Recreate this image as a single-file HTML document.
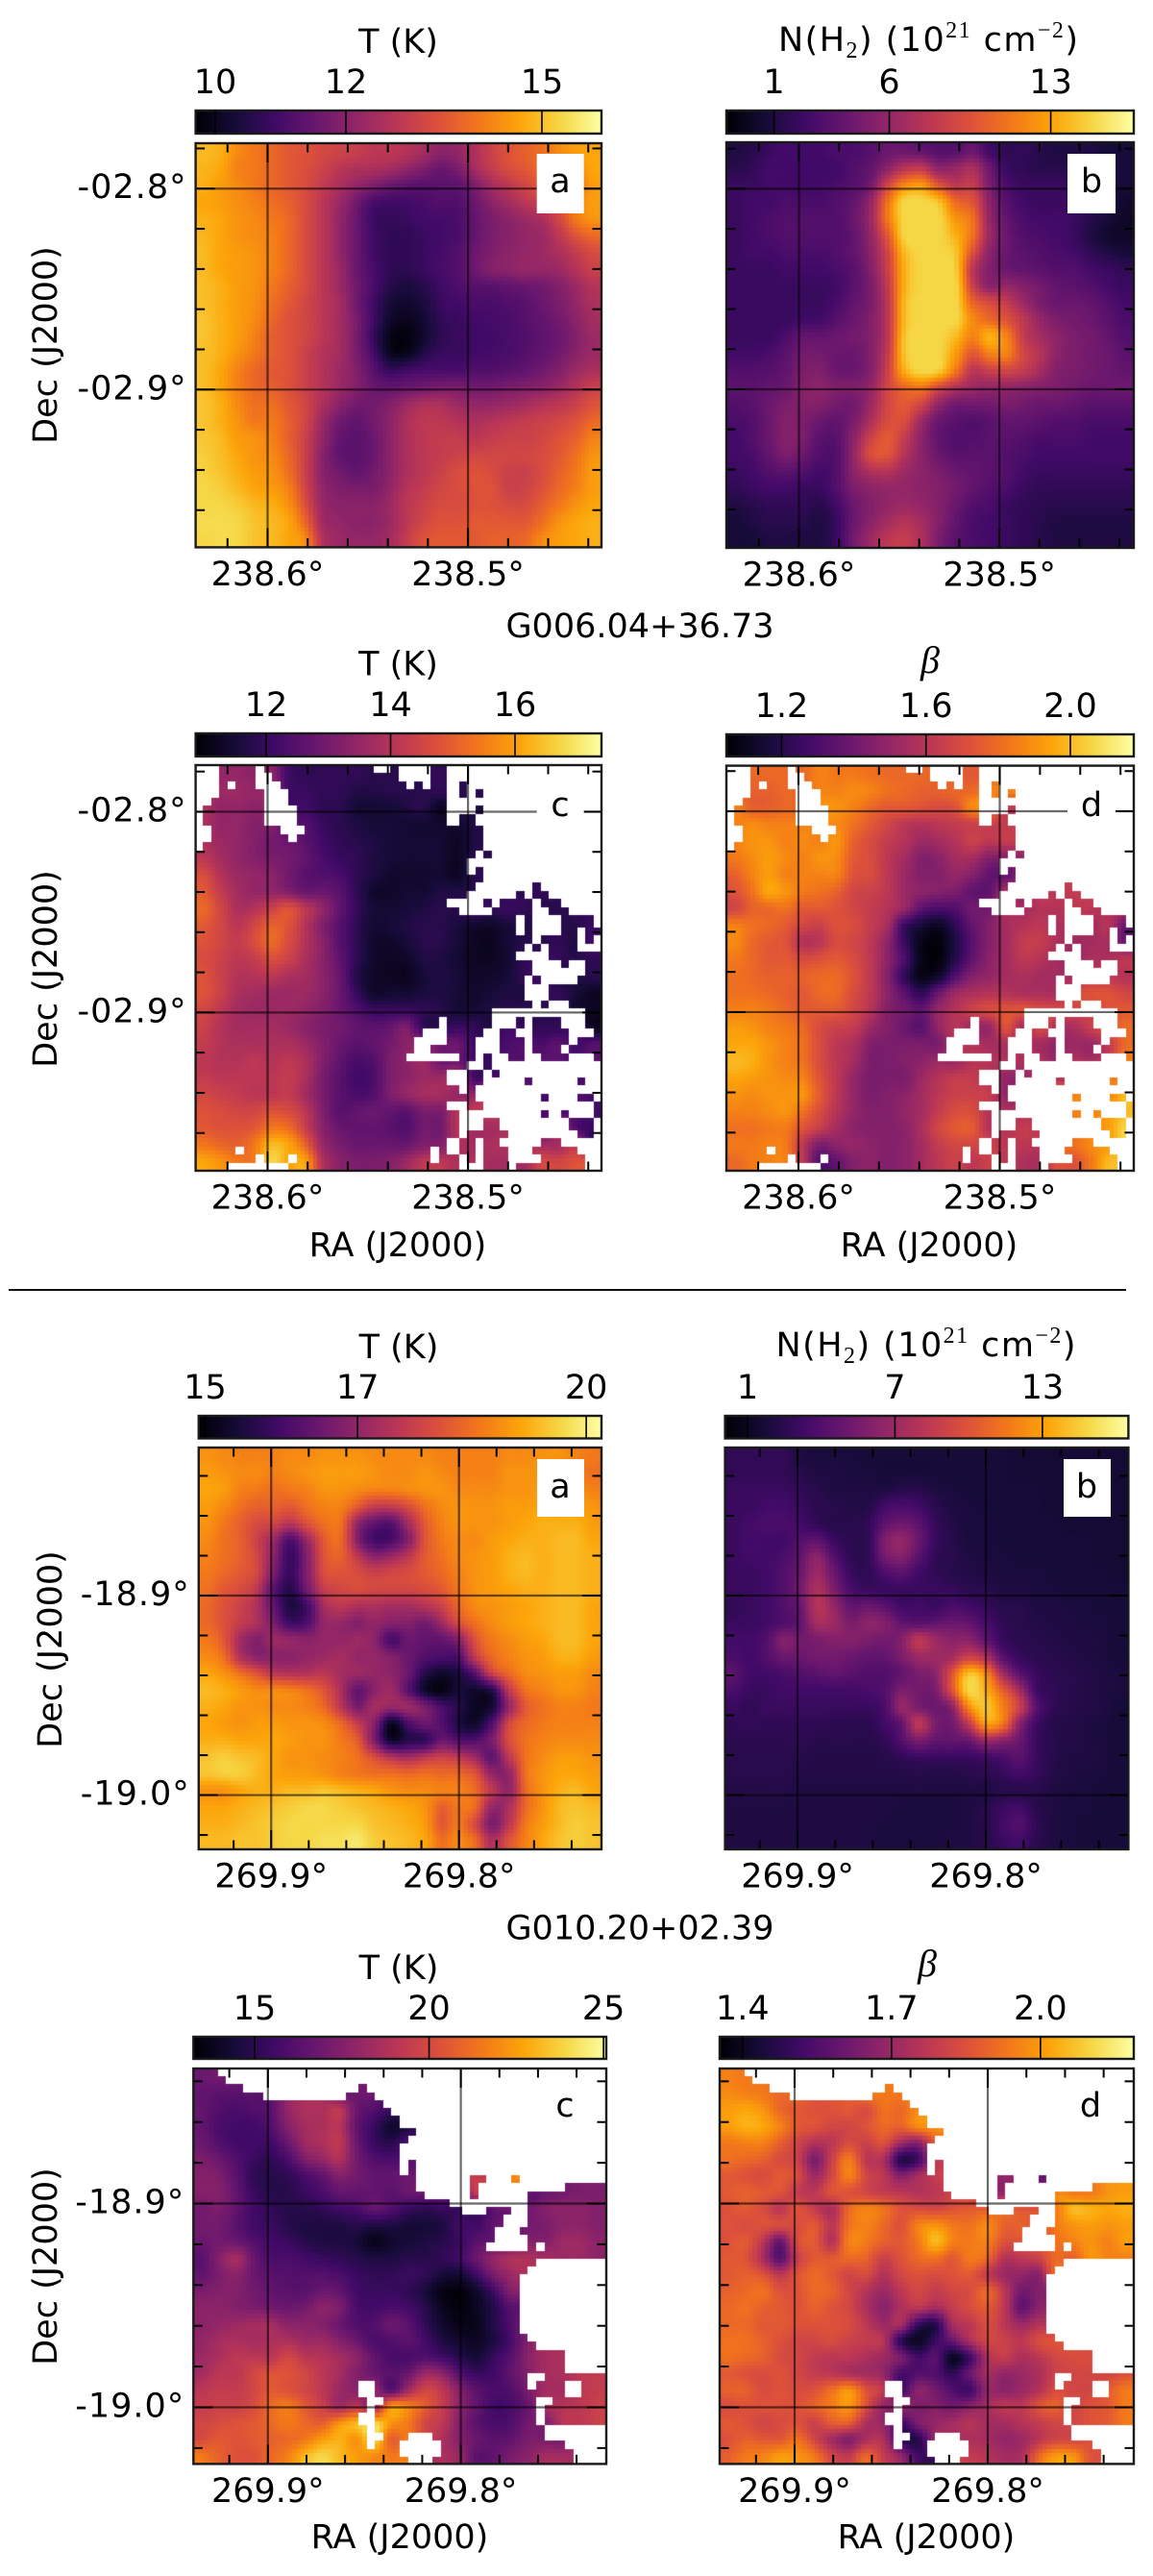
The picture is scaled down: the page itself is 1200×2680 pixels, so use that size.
<!DOCTYPE html>
<html lang="en">
<head>
<meta charset="utf-8">
<title>Dust temperature, column density and beta maps</title>
<style>
html,body{margin:0;padding:0;background:#fff}
#figure{position:relative;width:1200px;height:2680px;overflow:hidden;background:#fff}
#figure canvas{position:absolute;display:block}
#overlay{position:absolute;left:0;top:0;z-index:2}
#overlay text{font-family:"DejaVu Sans","Liberation Sans",sans-serif;font-size:35px;fill:#000}
#overlay .mathsmall{font-family:"Liberation Serif",serif;font-size:24px}
#overlay .beta{font-family:"Liberation Serif",serif;font-style:italic;font-size:40px}
</style>
</head>
<body>
<div id="figure">
<svg id="overlay" width="1200" height="2680" viewBox="0 0 1200 2680" xmlns="http://www.w3.org/2000/svg">
<defs id="defs"></defs>
<g id="marks"></g>

<text x="414.5" y="55" text-anchor="middle">T (K)</text>
<text x="966" y="53" text-anchor="middle" textLength="312">N(H<tspan class="mathsmall" dy="7">2</tspan><tspan dy="-7">) (10</tspan><tspan class="mathsmall" dy="-14">21</tspan><tspan dy="14">&#160;cm</tspan><tspan class="mathsmall" dy="-14">−2</tspan><tspan dy="14">)</tspan></text>
<text x="666" y="663" text-anchor="middle">G006.04+36.73</text>
<text x="414.5" y="702.5" text-anchor="middle">T (K)</text>
<text class="beta" x="968" y="700" text-anchor="middle">β</text>
<text x="414" y="1307" text-anchor="middle">RA (J2000)</text>
<text x="967" y="1307" text-anchor="middle">RA (J2000)</text>
<text transform="translate(59,359) rotate(-90)" text-anchor="middle">Dec (J2000)</text>
<text transform="translate(59,1008) rotate(-90)" text-anchor="middle">Dec (J2000)</text>

<rect x="9" y="1341" width="1163" height="2" fill="#111"/>

<text x="415" y="1413" text-anchor="middle">T (K)</text>
<text x="963.5" y="1411" text-anchor="middle" textLength="312">N(H<tspan class="mathsmall" dy="7">2</tspan><tspan dy="-7">) (10</tspan><tspan class="mathsmall" dy="-14">21</tspan><tspan dy="14">&#160;cm</tspan><tspan class="mathsmall" dy="-14">−2</tspan><tspan dy="14">)</tspan></text>
<text x="666" y="2017.5" text-anchor="middle">G010.20+02.39</text>
<text x="415" y="2059" text-anchor="middle">T (K)</text>
<text class="beta" x="965" y="2056" text-anchor="middle">β</text>
<text x="416" y="2651" text-anchor="middle">RA (J2000)</text>
<text x="964" y="2651" text-anchor="middle">RA (J2000)</text>
<text transform="translate(64,1716) rotate(-90)" text-anchor="middle">Dec (J2000)</text>
<text transform="translate(59,2358) rotate(-90)" text-anchor="middle">Dec (J2000)</text>

<rect x="558.7" y="160" width="49" height="62" fill="#fff"/>
<text x="583" y="200" text-anchor="middle">a</text>
<rect x="1111" y="160" width="50" height="62" fill="#fff"/>
<text x="1136" y="200" text-anchor="middle">b</text>
<rect x="558.7" y="807" width="49" height="62" fill="#fff"/>
<text x="583" y="849" text-anchor="middle">c</text>
<rect x="1111" y="807" width="50" height="62" fill="#fff"/>
<text x="1136" y="849" text-anchor="middle">d</text>
<rect x="559" y="1518" width="49" height="60" fill="#fff"/>
<text x="583" y="1558" text-anchor="middle">a</text>
<rect x="1107" y="1518" width="49" height="60" fill="#fff"/>
<text x="1131" y="1558" text-anchor="middle">b</text>
<rect x="563.5" y="2163" width="49" height="60" fill="#fff"/>
<text x="588" y="2202" text-anchor="middle">c</text>
<rect x="1110.5" y="2163" width="49" height="60" fill="#fff"/>
<text x="1135" y="2202" text-anchor="middle">d</text>
</svg>
</div>

<script>
// Inferno colour anchors, evenly spaced along the colour scale.
const infernoStops = ['#000004','#160b39','#420a68','#6a176e','#932667','#bc3754','#dd513a','#f37819','#fca50a','#f6d746','#fcffa4'];

// Unread cells; they take the value of the closest read cell.
const _ = null;

// Map values: percent of each panel's colour range, rows top to bottom.
const tempMap1a = [
[84,82,74,70,66,62,60,57,55,53,50,50,48,44,38,40,46,54,60,64,68,74,78,80],
[83,80,72,70,66,62,59,55,50,47,46,44,40,35,30,34,44,52,58,62,66,70,74,80],
[82,78,74,70,66,62,58,52,46,40,35,30,27,26,26,27,34,44,50,56,62,64,68,78],
[80,78,75,72,68,64,58,50,42,32,22,20,20,22,24,24,30,38,44,50,54,60,72,78],
[82,80,76,74,70,66,58,50,40,30,19,17,18,20,21,22,28,34,38,42,46,56,70,76],
[83,80,76,74,72,66,58,50,40,30,20,16,16,18,20,22,28,34,37,40,42,50,60,66],
[84,80,78,76,72,66,58,50,40,30,20,16,16,18,21,24,30,35,38,40,42,46,52,58],
[84,80,78,76,72,66,58,50,42,30,22,16,15,18,21,24,30,36,38,40,40,42,48,54],
[85,82,78,76,70,64,58,50,42,32,22,14,11,14,19,23,25,26,28,30,32,36,42,48],
[85,82,78,75,68,62,56,50,44,32,20,10,8,11,18,20,22,22,24,26,30,34,40,46],
[86,82,78,74,66,60,56,50,44,34,20,8,5,9,16,18,20,21,22,25,28,32,38,44],
[86,82,78,72,64,60,56,50,44,34,18,4,2,8,15,18,19,20,22,24,27,30,36,42],
[85,82,76,70,64,60,54,48,44,34,22,6,5,13,18,18,20,21,22,25,28,32,38,42],
[85,80,72,66,62,60,54,48,42,36,26,18,20,22,22,22,24,24,26,28,32,36,42,46],
[85,80,72,66,64,60,54,48,42,36,30,28,30,32,34,34,32,32,34,36,38,42,48,54],
[86,82,74,68,68,62,56,46,38,32,32,36,42,46,46,42,40,40,42,44,48,50,54,60],
[86,82,76,70,70,64,56,42,32,28,32,38,46,50,50,48,46,48,50,52,54,56,60,66],
[87,84,78,76,72,64,54,40,29,26,30,38,46,50,52,52,50,52,54,54,56,60,64,72],
[88,85,80,76,74,66,54,38,28,26,30,38,46,50,52,54,56,56,56,56,58,62,68,76],
[89,86,82,78,76,68,54,38,32,28,32,38,46,50,54,58,60,58,54,54,58,64,70,78],
[90,88,84,80,78,72,56,40,35,34,34,40,48,52,56,58,60,60,54,55,60,66,72,78],
[90,90,88,84,82,76,60,42,38,38,38,42,50,54,58,58,60,60,58,58,64,70,76,80],
[91,91,90,86,84,80,66,44,40,38,38,42,50,56,60,60,62,62,62,62,68,76,80,82],
[90,91,90,86,84,80,74,48,42,40,40,44,52,60,62,62,62,64,64,66,74,78,80,82]
];
const columnMap1b = [
[12,14,18,20,20,20,22,22,25,30,30,28,25,25,30,20,16,16,14,12,12,12,10,10],
[14,16,20,20,20,20,20,24,28,38,48,50,38,40,45,30,18,16,14,14,14,14,12,10],
[18,18,20,20,20,20,22,25,32,55,72,76,60,50,52,34,22,18,18,18,16,14,12,10],
[18,20,20,22,22,22,24,28,40,68,90,90,85,66,60,38,25,20,18,18,18,16,12,8],
[18,20,22,24,24,24,24,30,42,70,90,90,90,76,68,40,28,22,20,20,18,14,10,7],
[18,20,22,24,24,24,24,28,40,62,90,90,90,82,68,42,30,24,22,20,18,12,8,7],
[18,20,20,22,22,22,24,28,38,56,84,90,90,86,60,38,30,26,24,22,20,16,12,10],
[18,18,18,20,20,20,22,26,36,54,82,90,90,88,50,36,30,28,26,24,24,20,18,16],
[18,18,18,18,18,18,20,26,34,52,82,90,90,90,54,38,40,36,32,28,26,24,20,18],
[18,18,18,18,18,18,22,28,34,50,84,90,90,90,66,58,52,42,34,30,30,28,24,20],
[18,18,18,18,20,20,25,30,36,50,84,90,90,90,74,66,60,50,40,34,32,30,26,22],
[18,18,18,22,28,28,30,32,36,50,86,90,90,84,72,82,72,52,44,38,34,32,28,24],
[20,20,22,26,32,32,30,30,36,52,86,90,90,78,62,72,72,56,48,38,34,32,30,26],
[24,24,25,28,34,35,30,30,36,54,82,90,88,70,50,54,56,52,44,36,34,32,30,28],
[26,26,28,30,36,38,35,35,40,56,66,70,58,48,42,40,40,38,36,34,32,30,30,30],
[24,26,30,34,36,36,32,32,42,56,62,55,40,32,32,32,34,32,30,30,28,26,26,26],
[22,24,30,36,34,30,28,34,46,58,58,42,30,26,24,26,28,28,26,24,24,22,22,22],
[20,24,30,36,34,26,26,38,54,62,52,38,28,24,24,26,26,24,22,22,22,20,20,20],
[20,22,28,34,30,24,24,40,58,60,48,38,30,26,26,26,24,22,20,20,20,20,20,20],
[18,20,24,26,24,20,24,38,46,48,42,38,34,30,28,26,24,20,18,18,18,18,18,18],
[16,18,20,20,18,18,24,34,38,40,40,38,36,32,28,24,22,18,16,16,16,16,16,16],
[12,14,16,16,16,14,20,30,36,40,42,40,36,30,24,22,18,16,15,14,14,14,14,14],
[10,12,14,14,14,12,18,30,38,44,48,44,36,28,22,20,18,16,14,12,12,12,12,12],
[10,10,12,12,12,12,18,32,42,50,52,46,34,26,22,20,18,16,14,12,12,12,12,12]
];
const tempMap1c = [
[_,_,40,38,_,20,16,16,16,16,14,_,_,_,16],
[_,_,42,40,_,_,18,16,16,13,13,14,_,_,_,14],
[_,_,40,38,_,_,20,16,15,10,9,10,12,14,6],
[46,40,40,36,_,_,24,18,15,12,10,10,9,9,8,_,12],
[46,42,40,36,32,30,26,20,16,14,12,10,9,9,9,6],
[50,44,40,36,34,32,28,22,18,16,12,10,9,9,9,6,14],
[58,48,42,40,38,32,26,24,22,16,12,8,8,8,9,_,14],
[62,52,44,40,40,36,30,30,26,16,8,7,9,9,12,_,_,14,_,16,16,_,18],
[66,56,46,48,54,60,50,40,28,18,10,9,10,12,14,_,20,16,18,16,14,14,16],
[62,56,50,56,64,60,48,36,26,16,9,10,12,14,14,11,8,7,10,12,_,14,14,18],
[60,56,52,58,66,58,48,38,26,16,8,7,10,14,14,10,6,5,10,14,_,16,12,20],
[58,54,50,52,58,54,46,38,28,16,8,6,7,12,12,9,6,6,9,16,18,_,14,16],
[60,54,48,48,50,46,44,38,30,14,7,6,5,10,12,10,7,8,10,_,_,_,12,14],
[60,54,46,44,42,42,42,38,30,18,8,9,9,11,12,10,8,10,12,_,_,16,10,6],
[56,50,44,42,42,42,40,36,30,24,18,18,18,16,14,10,10,12,14,14,_,16,8,6],
[54,48,44,44,44,42,38,34,32,28,26,28,34,_,_,18,16,_,20,16,_,_,18],
[52,48,46,46,46,46,42,36,30,26,28,32,38,_,_,30,18,18,22,24,22,26,20,24],
[50,48,48,50,48,50,46,36,28,22,24,34,_,_,_,_,20,_,24,_,26],
[52,50,50,50,50,52,46,34,26,20,22,34,38,42,_,46],
[56,54,52,50,50,52,44,34,26,22,24,34,40,44,_,40,_,_,_,_,20],
[60,58,56,56,60,58,50,36,26,28,30,28,26,34,_,48,50,_,_,_,22,_,24,20],
[62,60,60,62,70,68,54,38,30,28,28,26,24,32,_,_,44,44,_,_,_,_,_,18],
[70,66,64,70,84,80,66,42,34,30,30,30,30,36,_,46,44,46,_,_,_,44,48],
[80,76,70,_,90,_,80,48,38,34,34,36,42,50,50,_,46,44,_,_,_,56,60]
];
const betaMap1d = [
[_,_,66,66,_,72,70,70,68,66,66,_,_,_,62],
[_,_,64,66,_,_,72,74,72,68,66,64,_,_,66,72],
[_,_,64,66,_,_,76,72,66,62,62,60,58,60,74],
[72,74,72,72,_,_,74,68,62,56,50,48,50,52,54,_,52],
[72,76,76,72,74,72,76,64,58,52,48,42,44,48,54,50],
[70,74,78,74,72,76,74,62,58,50,44,36,38,44,44,36],
[64,72,78,72,72,72,72,60,58,50,42,36,36,40,36,28,_,38],
[60,68,80,76,70,68,64,56,54,50,42,38,36,34,28,_,_,_,50,_,52],
[56,64,66,68,62,62,60,56,52,48,40,26,22,24,32,_,46,44,48,_,50,_,46],
[72,68,66,62,56,54,60,58,52,44,18,10,6,16,28,36,44,48,50,46,_,44,48,30],
[74,66,62,60,48,50,58,56,50,38,18,4,2,12,26,36,44,52,52,46,42,_,44],
[70,66,62,62,58,60,62,58,50,38,22,4,2,14,28,38,44,50,48,44,_,_,46,50],
[68,66,64,64,64,66,66,60,50,36,16,4,8,24,36,40,44,46,44,_,_,_,50,48],
[68,68,66,64,62,66,66,58,50,38,26,16,30,42,46,48,48,46,46,_,_,_,60,56],
[72,72,70,66,62,62,62,56,48,36,32,28,40,48,54,58,60,60,58,56,_,54,60,62],
[78,76,72,70,66,58,54,52,42,36,30,26,_,_,42,42,_,44,_,46,_,_,_,66],
[80,80,76,72,68,58,50,46,36,34,34,34,_,_,48,44,46,_,44,40,42,_,52],
[84,82,76,72,68,58,50,44,34,34,36,38,42,_,_,48,_,_,46,_,46,_,_,70],
[80,78,76,74,72,60,50,40,34,34,34,42,48,52,_,_,40],
[76,74,76,76,76,62,50,40,34,36,38,44,50,54,_,52,_,_,_,_,_,72],
[72,72,74,76,68,58,48,40,36,36,40,44,52,58,_,48,46,_,_,_,_,_,78,84],
[68,68,70,70,60,52,44,38,36,36,38,46,56,62,_,_,48,52,_,_,_,_,_,90],
[70,70,72,_,50,34,38,40,38,36,38,44,52,56,_,54,50,50,_,_,68,74,78],
[66,_,_,_,_,24,28,36,38,36,38,44,50,54,50,_,50,46,_,_,60,70,84]
];
const tempMap2a = [
[76,74,72,72,72,74,74,76,76,76,74,74,74,74,72,72,72,72,74,74,76,76,72,70],
[78,76,74,74,72,74,76,78,78,78,76,74,74,76,74,72,72,72,76,76,76,76,72,68],
[80,78,72,70,68,70,72,76,76,74,72,72,74,76,76,74,74,74,76,76,78,78,76,72],
[78,74,68,64,64,62,68,72,72,62,52,52,58,68,74,76,76,76,78,78,80,80,80,76],
[76,70,64,58,56,50,60,68,68,40,28,26,44,62,72,76,76,76,78,80,82,82,82,78],
[74,68,64,54,42,24,42,62,66,36,20,22,36,60,70,74,74,78,80,82,82,84,84,80],
[72,68,64,56,38,18,36,60,64,50,38,42,50,62,68,74,76,78,82,84,82,84,84,82],
[70,66,62,56,34,18,36,58,60,58,54,56,58,62,66,72,76,78,82,84,82,84,84,82],
[68,62,58,50,26,14,32,52,56,58,56,56,56,58,62,70,76,78,80,82,82,84,84,82],
[66,60,54,46,28,12,20,44,50,46,46,44,44,48,54,66,74,76,78,80,82,84,84,80],
[66,60,52,46,34,20,24,40,40,36,40,36,36,32,42,58,68,74,78,80,82,84,84,80],
[70,62,44,36,42,40,38,40,40,42,38,22,30,28,28,36,60,70,74,78,80,84,84,80],
[74,68,48,38,38,38,40,42,44,40,40,36,30,24,22,24,52,66,72,76,78,82,82,78],
[80,76,68,60,50,48,48,50,44,42,40,38,30,14,8,12,26,54,66,74,76,78,78,74],
[84,82,78,74,74,72,68,60,46,28,38,42,26,8,3,10,8,14,50,68,72,76,76,72],
[82,80,76,76,74,74,72,66,50,34,44,40,42,34,22,14,6,10,40,62,68,72,72,70],
[80,78,76,78,78,76,76,74,66,52,36,6,22,30,24,12,8,24,56,66,70,72,72,72],
[82,82,80,80,80,78,76,76,70,62,34,8,14,16,30,24,24,34,58,68,72,74,74,74],
[86,88,86,84,80,76,76,74,72,68,58,48,44,50,54,50,42,28,50,68,74,78,78,76],
[86,88,88,84,80,78,78,76,72,70,68,68,66,68,66,66,60,40,40,68,76,80,80,78],
[76,76,80,82,82,84,84,86,84,82,80,76,74,74,72,72,66,50,40,66,76,82,84,80],
[80,80,82,84,86,88,90,90,88,86,84,82,80,76,64,70,66,40,46,66,76,84,86,84],
[82,82,84,86,88,90,90,90,90,90,86,84,82,78,62,70,56,34,50,70,78,84,88,86],
[84,84,86,86,88,90,90,92,92,94,88,86,84,80,68,74,66,46,60,72,80,86,88,86]
];
const columnMap2b = [
[16,16,16,16,12,11,11,11,10,10,10,10,10,10,10,10,10,9,9,9,9,9,9,9],
[16,16,16,16,14,12,12,11,11,10,10,10,10,10,10,10,10,9,9,9,9,9,9,9],
[18,18,18,18,16,14,12,12,12,12,14,14,12,11,10,10,10,10,10,9,9,9,9,9],
[18,18,20,20,18,15,14,13,13,20,22,20,15,12,11,10,10,10,10,9,9,9,9,9],
[18,20,22,22,20,16,14,14,16,26,30,26,17,13,11,11,10,10,10,10,9,9,9,9],
[18,20,20,20,24,26,18,15,16,34,40,30,18,14,11,11,10,10,10,10,10,10,9,9],
[18,20,20,22,28,38,24,16,16,32,36,26,16,14,12,11,11,10,10,10,10,10,9,9],
[18,18,20,24,30,42,30,18,16,22,26,20,16,14,13,12,11,11,11,10,10,10,10,9],
[18,18,20,24,32,46,34,22,18,18,18,18,18,17,15,14,12,12,11,11,10,10,10,10],
[16,18,20,24,30,48,40,28,30,26,20,20,18,22,20,17,14,14,12,12,11,11,10,10],
[18,18,20,24,28,44,42,34,38,36,28,26,28,30,28,22,16,14,13,12,12,11,11,10],
[20,20,24,36,32,34,36,36,34,32,36,50,42,38,38,28,18,15,14,13,12,12,11,10],
[22,20,24,30,30,32,32,30,28,28,34,42,42,44,54,46,26,18,15,14,13,12,11,10],
[26,20,20,22,24,26,28,26,24,24,28,34,38,60,85,74,44,26,18,15,14,13,12,11],
[22,18,18,20,20,20,20,20,22,24,34,32,34,60,90,82,64,44,20,16,14,13,12,11],
[18,16,18,18,18,18,18,18,18,22,40,34,30,38,74,86,72,54,26,16,14,13,12,10],
[16,16,16,16,16,16,15,15,15,20,28,50,34,32,52,78,70,38,20,14,13,12,11,10],
[15,15,15,15,15,14,14,14,14,16,24,34,28,28,30,42,38,30,18,14,13,12,11,10],
[14,14,14,14,14,13,13,13,13,14,16,18,18,18,18,20,22,26,18,14,12,12,11,10],
[14,14,14,14,13,13,13,13,13,13,13,14,13,13,14,15,17,20,17,13,12,11,11,10],
[13,13,13,13,12,12,12,12,12,12,12,12,12,12,12,12,14,14,14,12,11,11,10,10],
[12,12,12,12,12,12,12,12,12,12,11,11,11,11,12,14,18,20,14,12,11,11,10,10],
[12,12,12,12,12,12,12,12,12,11,11,11,11,11,12,14,20,24,16,12,11,10,10,10],
[12,12,12,12,12,12,12,12,12,11,11,11,11,12,12,14,18,20,15,12,11,10,10,10]
];
const tempMap2c = [
[30,32],
[28,26,26,26,_,_,_,_,_,30],
[28,24,22,24,26,40,46,46,50,30,24,18],
[28,22,20,20,24,36,44,46,48,28,18,8,12,20],
[30,24,20,20,20,30,42,46,50,30,18,14,22],
[34,30,24,18,16,22,34,40,46,32,24,22,24],
[36,34,26,16,14,16,22,28,36,32,28,28,30,_,_,_,52,_,72],
[36,36,28,18,14,14,18,22,28,28,28,26,30,_,30,_,_,_,_,_,30,32,34,34],
[32,34,28,20,16,14,14,16,20,22,28,24,18,16,18,_,_,_,_,32,36,38,38,36],
[32,32,26,20,18,14,12,12,12,14,12,12,10,10,12,20,_,28,30,_,34,38,38,36],
[30,32,30,24,20,18,14,12,12,10,4,8,10,12,14,18,26,_,_,_,36,42,42,38],
[26,36,44,30,22,22,20,18,16,14,12,12,14,14,16,20,30,40,46,46,44],
[28,34,38,30,26,24,24,24,22,18,16,16,18,16,10,10,20,34,42],
[34,36,36,32,28,26,26,30,28,20,18,18,16,10,3,2,8,20,36],
[38,38,36,34,32,30,32,38,34,22,20,22,20,14,5,2,6,14,26],
[38,40,42,44,44,38,38,36,30,24,24,30,26,16,8,4,5,14,24,36],
[40,44,46,44,46,46,42,42,36,30,22,24,26,20,12,8,6,12,22,36,44],
[42,46,50,50,50,56,50,48,44,38,28,22,22,24,20,14,10,18,26,38,44,46],
[44,50,50,56,60,60,56,50,44,36,30,26,30,42,38,24,18,20,28,36,44,_,50,52],
[50,52,52,56,62,60,56,50,42,38,40,_,44,56,50,36,26,22,24,34,44,44,_,52],
[52,54,54,58,66,70,62,54,44,50,_,76,72,62,52,38,28,20,22,30,44,48,50,54],
[56,58,60,62,66,70,66,64,76,84,90,_,70,56,50,36,26,22,24,32,34],
[58,62,60,62,64,66,70,78,82,76,_,64,_,_,46,_,30,26,28,34],
[70,64,60,60,66,72,84,90,84,78,74,70,_,_,46,40,26,28,34,38,44]
];
const betaMap2d = [
[72,70],
[74,72,70,66,_,_,_,_,_,70],
[78,80,76,66,62,60,60,62,58,68,66,74],
[78,82,80,72,62,60,56,56,60,66,64,74,76],
[70,72,72,64,56,48,50,58,54,60,44,38,62],
[68,66,64,58,54,34,54,70,50,46,14,20,50],
[62,60,58,62,58,42,56,72,56,50,36,44,52,56,_,_,40,_,30],
[62,64,62,60,52,50,60,60,56,52,50,48,50,54,_,_,_,_,_,_,_,70,76,78],
[60,62,58,50,60,52,46,66,72,68,60,58,56,60,62,_,_,_,60,70,84,82,80,82],
[60,58,60,58,58,62,50,68,72,66,60,72,76,70,68,74,64,_,_,70,76,78,76,78],
[60,62,50,30,58,62,48,72,70,64,62,70,84,72,70,72,60,60,_,68,72,76,72],
[62,60,46,26,52,62,62,66,64,54,60,66,68,62,70,66,48,50,54,66,64],
[62,64,60,50,60,66,62,56,58,48,56,60,58,60,62,52,42,40,38],
[64,66,68,60,60,66,64,56,48,42,50,56,52,56,58,66,50,32,36],
[66,68,64,62,60,64,60,56,46,38,46,50,44,52,58,62,50,28,38],
[66,66,62,62,60,60,60,58,50,42,44,18,14,44,50,58,50,42,48],
[68,68,64,60,56,56,58,54,52,48,16,6,18,30,46,56,54,50,58,60],
[68,66,64,58,56,52,50,50,46,42,34,20,26,6,20,46,52,46,50,56,58],
[62,60,58,60,56,52,50,46,44,40,22,24,24,16,30,44,40,42,46,54,56,_,56,60],
[64,64,58,60,58,60,68,76,60,50,_,38,32,24,20,40,38,42,48,58,56,_,62,70],
[58,60,60,60,60,64,70,76,58,40,_,34,36,32,38,44,50,50,60,64,56,60,62,70],
[62,60,56,58,60,54,62,62,46,_,20,_,40,44,48,44,44,48,52,56,56],
[60,64,62,62,68,56,44,36,46,_,16,14,_,_,46,_,40,42,50,56],
[64,70,72,78,76,70,56,52,66,52,40,20,_,_,52,48,44,46,66,78,76,60]
];

// Valid-data coverage of the c and d panels ('#' has data, '.' is blank), 48 columns wide, top to bottom.
const coverage1 = [
'...####.#############..#....##..................',
'...####..###############....##..................',
'...#.##...###############.#.##.#................',
'...#####...#############.#####.#.#..............'.replace('.#####.#.#','######.#.#'),
'..######...###################..................',
'.#######....############'+'######...#..............',
'.#######....############'+'######.##...............',
'..########...###########'+'##########..............',
'..#########.############'+'##########..............',
'.#######################'+'##########..............',
'########################'+'#########.#.............',
'########################'+'########................',
'########################'+'########.#..............',
'########################'+'##########..............',
'########################'+'#########.......#.......',
'########################'+'########......#.##......',
'########################'+'######....#.####.##.....',
'########################'+'#######....#####..##....',
'########################'+'##############.#...####.',
'########################'+'##############.#...##.##',
'########################'+'################.####.#.',
'########################'+'###############.#.###...',
'########################'+'##############....######',
'########################'+'################...#..##',
'########################'+'################......##',
'########################'+'###############.#....###',
'########################'+'###############...######',
'########################'+'###############...######',
'########################'+'################.#..####',
'########################'+'###########...........##',
'########################'+'#####.#####...#.###...##',
'########################'+'###...####..##..####...#',
'########################'+'##....###...###.####.###',
'########################'+'##..#####...###.###.####',
'########################'+'#......##.#..##..###...#',
'########################'+'########..#.............',
'########################'+'######..##.#............',
'########################'+'######..##.....#.....#..',
'########################'+'#######.#...............',
'########################'+'#########........#...##.',
'########################'+'######..##.............#',
'########################'+'#######..........#.#...#',
'########################'+'#######...##........###.',
'########################'+'#######.#####........##.',
'########################'+'######.##.##.....##.....',
'#####.##################'+'####.#.##.###...#####...',
'#######.###.############'+'####.##.#.###....#####..',
'####.......#############'+'#######...###.########..'
];
// Same idea for the second source, as alternating run lengths: data, blank, data, ...
const coverageRuns2 = [
[3],[4],[6,13,1],[8,10,3],[22],[23],[24],[26],[25],[24],[24],[24,1,1],[24,1,1],
[26,6,2,3,1],[26,6,1,10,5],[27,5,1,6,9],[30,9,9],[31,3,3,2,9],[36,3,9],[35,3,10],[35,4,9],
[34,5,1,1,7],[48],[40],[39],[38],[38],[38],[38],[38],[38],[38],[39],[40],[43],[43],[43],
[39,2,7],[19,2,18,1,3,2,3],[19,2,22,2,3],[20,2,18,2,6],[20,1,19,1,7],[19,2,19,1,7],
[20,1,20],[20,2,3,3,13],[20,1,3,5,14],[24,5,15],[25,3,16]
];

// Axis tick values and labels.
const raMajor1 = [238.6, 238.5];
const raLabels1 = ['238.6°', '238.5°'];
const raAll1 = [238.62,238.6,238.58,238.56,238.54,238.52,238.5,238.48,238.46,238.44];
const decMajor1 = [-2.8, -2.9];
const decLabels1 = ['-02.8°', '-02.9°'];
const decAll1 = [-2.78,-2.8,-2.82,-2.84,-2.86,-2.88,-2.9,-2.92,-2.94,-2.96];
const raMajor2 = [269.9, 269.8];
const raLabels2 = ['269.9°', '269.8°'];
const raAll2 = [269.92,269.9,269.88,269.86,269.84,269.82,269.8,269.78,269.76,269.74];
const decMajor2 = [-18.9, -19.0];
const decLabels2 = ['-18.9°', '-19.0°'];
const decAll2 = [-18.84,-18.86,-18.88,-18.9,-18.92,-18.94,-18.96,-18.98,-19.0,-19.02];

// Colour-bar tick values and labels.
const cbarTicks1a = [10, 12, 15];
const cbarLabels1a = ['10', '12', '15'];
const cbarTicks1b = [1, 6, 13];
const cbarLabels1b = ['1', '6', '13'];
const cbarTicks1c = [12, 14, 16];
const cbarLabels1c = ['12', '14', '16'];
const cbarTicks1d = [1.2, 1.6, 2.0];
const cbarLabels1d = ['1.2', '1.6', '2.0'];
const cbarTicks2a = [15, 17, 20];
const cbarLabels2a = ['15', '17', '20'];
const cbarTicks2b = [1, 7, 13];
const cbarLabels2b = ['1', '7', '13'];
const cbarTicks2c = [15, 20, 25];
const cbarLabels2c = ['15', '20', '25'];
const cbarTicks2d = [1.4, 1.7, 2.0];
const cbarLabels2d = ['1.4', '1.7', '2.0'];

function runsToRow(runs) {
  let row = '';
  runs.forEach(function (n, i) { row += (i % 2 === 0 ? '#' : '.').repeat(n); });
  return row;
}
const coverage2 = coverageRuns2.map(runsToRow);

const panels = [
 {id:'1a',left:203.6,top:149,right:626,bottom:569.4,barTop:115,barBottom:139,grid:tempMap1a,ceil:99,raDomain:[238.6359,238.4334],decDomain:[-2.7774,-2.9785],raMajor:raMajor1,raLabels:raLabels1,raAll:raAll1,decMajor:decMajor1,decLabels:decLabels1,decAll:decAll1,cDomain:[9.7,15.912],cTicks:cbarTicks1a,cLabels:cbarLabels1a,showDec:true},
 {id:'1b',left:756,top:148,right:1180,bottom:570,barTop:115,barBottom:139,grid:columnMap1b,ceil:90,raDomain:[238.6362,238.4329],decDomain:[-2.7768,-2.9791],raMajor:raMajor1,raLabels:raLabels1,raAll:raAll1,decMajor:decMajor1,decLabels:decLabels1,decAll:decAll1,cDomain:[-1.0625,16.6],cTicks:cbarTicks1b,cLabels:cbarLabels1b,showDec:false},
 {id:'1c',left:203.6,top:796,right:626,bottom:1218,barTop:763,barBottom:787,grid:tempMap1c,ceil:99,mask:coverage1,raDomain:[238.6359,238.4334],decDomain:[-2.7768,-2.9788],raMajor:raMajor1,raLabels:raLabels1,raAll:raAll1,decMajor:decMajor1,decLabels:decLabels1,decAll:decAll1,cDomain:[10.866,17.39],cTicks:cbarTicks1c,cLabels:cbarLabels1c,showDec:true},
 {id:'1d',left:756,top:796.6,right:1180,bottom:1218,barTop:764,barBottom:787,grid:betaMap1d,ceil:99,mask:coverage1,raDomain:[238.6358,238.4334],decDomain:[-2.7773,-2.979],raMajor:raMajor1,raLabels:raLabels1,raAll:raAll1,decMajor:decMajor1,decLabels:decLabels1,decAll:decAll1,cDomain:[1.047,2.1758],cTicks:cbarTicks1d,cLabels:cbarLabels1d,showDec:false},
 {id:'2a',left:206.8,top:1506,right:626,bottom:1924,barTop:1473,barBottom:1496.5,grid:tempMap2a,ceil:99,raDomain:[269.9386,269.7241],decDomain:[-18.8258,-19.0272],raMajor:raMajor2,raLabels:raLabels2,raAll:raAll2,decMajor:decMajor2,decLabels:decLabels2,decAll:decAll2,cDomain:[14.915,20.2],cTicks:cbarTicks2a,cLabels:cbarLabels2a,showDec:true},
 {id:'2b',left:754.6,top:1506,right:1174.4,bottom:1924,barTop:1473,barBottom:1496.5,grid:columnMap2b,ceil:90,raDomain:[269.9385,269.7243],decDomain:[-18.8258,-19.0272],raMajor:raMajor2,raLabels:raLabels2,raAll:raAll2,decMajor:decMajor2,decLabels:decLabels2,decAll:decAll2,cDomain:[0.085,16.5],cTicks:cbarTicks2b,cLabels:cbarLabels2b,showDec:false},
 {id:'2c',left:201.3,top:2152,right:631,bottom:2563.4,barTop:2119,barBottom:2142,grid:tempMap2c,ceil:99,mask:coverage2,raDomain:[269.9386,269.7246],decDomain:[-18.8337,-19.0278],raMajor:raMajor2,raLabels:raLabels2,raAll:raAll2,decMajor:decMajor2,decLabels:decLabels2,decAll:decAll2,cDomain:[13.245,25.08],cTicks:cbarTicks2c,cLabels:cbarLabels2c,showDec:true},
 {id:'2d',left:749,top:2152,right:1180,bottom:2563.4,barTop:2119,barBottom:2142,grid:betaMap2d,ceil:99,mask:coverage2,raDomain:[269.9388,269.7244],decDomain:[-18.8337,-19.0278],raMajor:raMajor2,raLabels:raLabels2,raAll:raAll2,decMajor:decMajor2,decLabels:decLabels2,decAll:decAll2,cDomain:[1.354,2.188],cTicks:cbarTicks2d,cLabels:cbarLabels2d,showDec:false}
];

const svgNS = 'http://www.w3.org/2000/svg';
const figure = document.getElementById('figure');
const overlay = document.getElementById('overlay');
const marks = document.getElementById('marks');
const defs = document.getElementById('defs');
const gridSize = 24;

function linear(d0, d1, r0, r1) {
  return function (v) { return r0 + (v - d0) / (d1 - d0) * (r1 - r0); };
}
function hexRgb(h) {
  return [parseInt(h.slice(1, 3), 16), parseInt(h.slice(3, 5), 16), parseInt(h.slice(5, 7), 16)];
}
const infernoRgb = infernoStops.map(hexRgb);
function inferno(pct) {
  const t = Math.max(0, Math.min(0.9999, pct / 100)) * (infernoRgb.length - 1);
  const i = Math.floor(t), f = t - i;
  const a = infernoRgb[i], b = infernoRgb[i + 1];
  return 'rgb(' + Math.round(a[0] + (b[0] - a[0]) * f) + ',' + Math.round(a[1] + (b[1] - a[1]) * f) + ',' + Math.round(a[2] + (b[2] - a[2]) * f) + ')';
}
// Every unread cell takes the value of the closest read cell.
function fillGaps(grid) {
  const out = [];
  for (let r = 0; r < gridSize; r++) {
    out.push([]);
    for (let c = 0; c < gridSize; c++) {
      let found = grid[r][c];
      if (found === null || found === undefined) {
        let best = Infinity;
        found = 0;
        for (let j = 0; j < gridSize; j++) {
          for (let i = 0; i < gridSize; i++) {
            const v = grid[j][i];
            if (v === null || v === undefined) continue;
            const d = (i - c) * (i - c) + (j - r) * (j - r);
            if (d < best) { best = d; found = v; }
          }
        }
      }
      out[r].push(found);
    }
  }
  return out;
}
function catmull(a, b, c, d, t) {
  return 0.5 * (2 * b + (c - a) * t + (2 * a - 5 * b + 4 * c - d) * t * t + (3 * b - a - 3 * c + d) * t * t * t);
}
function clampIndex(i) { return Math.max(0, Math.min(gridSize - 1, i)); }
function sampleGrid(g, u, v) {
  const i = Math.floor(u), j = Math.floor(v), fu = u - i, fv = v - j;
  const across = [];
  for (let n = -1; n <= 2; n++) {
    const row = g[clampIndex(j + n)];
    across.push(catmull(row[clampIndex(i - 1)], row[clampIndex(i)], row[clampIndex(i + 1)], row[clampIndex(i + 2)], fu));
  }
  return catmull(across[0], across[1], across[2], across[3], fv);
}
function drawHeatmap(p) {
  const canvas = document.createElement('canvas');
  
  
  const x0 = Math.floor(p.left), y0 = Math.floor(p.top);
  const w = Math.ceil(p.right) - x0, h = Math.ceil(p.bottom) - y0;
  canvas.width = w;
  canvas.height = h;
  canvas.style.left = x0 + 'px';
  canvas.style.top = y0 + 'px';
  const ctx = canvas.getContext('2d');
  const pixels = 100;
  const cellX = linear(0, pixels, 0, w), cellY = linear(0, pixels, 0, h);
  const filled = fillGaps(p.grid);
  for (let r = 0; r < pixels; r++) {
    for (let c = 0; c < pixels; c++) {
      if (p.mask) {
        const maskRow = p.mask[Math.floor((r + 0.5) / pixels * 48)] || '';
        if (maskRow.charAt(Math.floor((c + 0.5) / pixels * 48)) !== '#') continue;
      }
      const val = Math.min(p.ceil, sampleGrid(filled, (c + 0.5) / pixels * gridSize - 0.5, (r + 0.5) / pixels * gridSize - 0.5));
      const px = Math.round(cellX(c)), py = Math.round(cellY(r));
      ctx.fillStyle = inferno(val);
      ctx.fillRect(px, py, Math.round(cellX(c + 1)) - px, Math.round(cellY(r + 1)) - py);
    }
  }
  figure.insertBefore(canvas, overlay);
}
function line(name, x1, y1, x2, y2, stroke, width, opacity) {
  const el = document.createElementNS(svgNS, 'line');
  
  
  el.setAttribute('x1', x1);
  el.setAttribute('y1', y1);
  el.setAttribute('x2', x2);
  el.setAttribute('y2', y2);
  el.setAttribute('stroke', stroke);
  el.setAttribute('stroke-width', width);
  if (opacity !== undefined) el.setAttribute('stroke-opacity', opacity);
  marks.appendChild(el);
}
function label(name, x, y, anchor, str) {
  const el = document.createElementNS(svgNS, 'text');
  
  
  el.setAttribute('x', x);
  el.setAttribute('y', y);
  el.setAttribute('text-anchor', anchor);
  el.textContent = str;
  marks.appendChild(el);
  return el;
}
function drawGradient() {
  const g = document.createElementNS(svgNS, 'linearGradient');
  g.setAttribute('id', 'infernoGradient');
  infernoStops.forEach(function (col, i) {
    const s = document.createElementNS(svgNS, 'stop');
    s.setAttribute('offset', i / (infernoStops.length - 1));
    s.setAttribute('stop-color', col);
    g.appendChild(s);
  });
  defs.appendChild(g);
}
function drawColorbar(p) {
  const bar = document.createElementNS(svgNS, 'rect');
  
  
  bar.setAttribute('x', p.left);
  bar.setAttribute('y', p.barTop);
  bar.setAttribute('width', p.right - p.left);
  bar.setAttribute('height', p.barBottom - p.barTop);
  bar.setAttribute('fill', 'url(#infernoGradient)');
  bar.setAttribute('stroke', '#1a1a1a');
  bar.setAttribute('stroke-width', '2.4');
  marks.appendChild(bar);
  const cx = linear(p.cDomain[0], p.cDomain[1], p.left, p.right);
  p.cTicks.forEach(function (v, i) {
    line('colorbar-tick-' + p.id, cx(v), p.barTop, cx(v), p.barBottom, '#000', 1.6);
    label('colorbar-tick-label-' + p.id, cx(v), p.barTop - 18, 'middle', p.cLabels[i]);
  });
}
function drawAxes(p) {
  const xs = linear(p.raDomain[0], p.raDomain[1], p.left, p.right);
  const ys = linear(p.decDomain[0], p.decDomain[1], p.top, p.bottom);
  p.raMajor.forEach(function (v) {
    line('ra-grid-line-' + p.id, xs(v), p.top, xs(v), p.bottom, '#000', 2.2, 0.58);
  });
  p.decMajor.forEach(function (v) {
    line('dec-grid-line-' + p.id, p.left, ys(v), p.right, ys(v), '#000', 2.2, 0.58);
  });
  p.raAll.forEach(function (v) {
    const len = p.raMajor.indexOf(v) >= 0 ? 20 : 9.5;
    line('ra-tick-top-' + p.id, xs(v), p.top, xs(v), p.top + len, '#000', 2);
    line('ra-tick-bottom-' + p.id, xs(v), p.bottom, xs(v), p.bottom - len, '#000', 2);
  });
  p.decAll.forEach(function (v) {
    const len = p.decMajor.indexOf(v) >= 0 ? 20 : 9.5;
    line('dec-tick-left-' + p.id, p.left, ys(v), p.left + len, ys(v), '#000', 2);
    line('dec-tick-right-' + p.id, p.right, ys(v), p.right - len, ys(v), '#000', 2);
  });
  const spine = document.createElementNS(svgNS, 'rect');
  
  
  spine.setAttribute('x', p.left);
  spine.setAttribute('y', p.top);
  spine.setAttribute('width', p.right - p.left);
  spine.setAttribute('height', p.bottom - p.top);
  spine.setAttribute('fill', 'none');
  spine.setAttribute('stroke', '#1a1a1a');
  spine.setAttribute('stroke-width', '2.4');
  marks.appendChild(spine);
  p.raMajor.forEach(function (v, i) {
    label('ra-tick-label-' + p.id, xs(v), p.bottom + 39.5, 'middle', p.raLabels[i]);
  });
  if (p.showDec) {
    p.decMajor.forEach(function (v, i) {
      const tick = label('dec-tick-label-' + p.id, p.left - 9, ys(v) + 10, 'end', p.decLabels[i]);
      tick.setAttribute('letter-spacing', '1');
    });
  }
}
drawGradient();
panels.forEach(function (p) {
  drawHeatmap(p);
  drawColorbar(p);
  drawAxes(p);
});
</script>
</body>
</html>
